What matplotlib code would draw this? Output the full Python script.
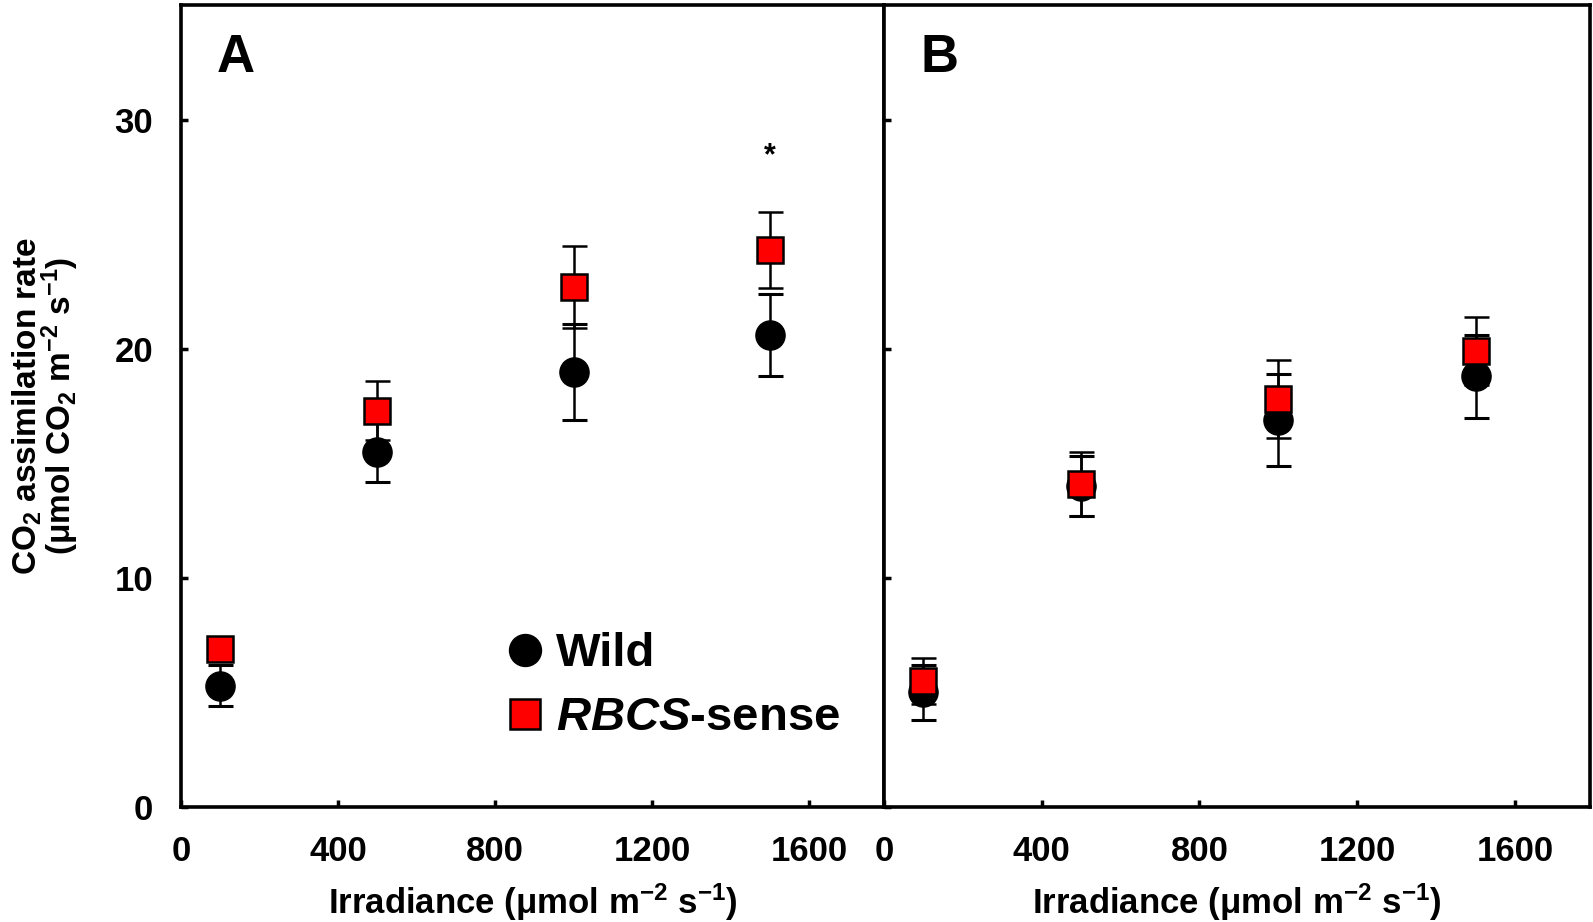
import matplotlib
matplotlib.use('Agg')
import matplotlib.pyplot as plt
from matplotlib.lines import Line2D

plt.rcParams['font.family'] = 'Liberation Sans'
plt.rcParams['font.weight'] = 'bold'
plt.rcParams['axes.labelweight'] = 'bold'
plt.rcParams['mathtext.fontset'] = 'custom'
plt.rcParams['mathtext.rm'] = 'Liberation Sans:bold'
plt.rcParams['mathtext.it'] = 'Liberation Sans:bold:italic'
plt.rcParams['mathtext.bf'] = 'Liberation Sans:bold'

irradiance = [100, 500, 1000, 1500]

# panel A
wild_a = [5.3, 15.5, 19.0, 20.6]
wild_a_err = [0.9, 1.3, 2.1, 1.8]
sense_a = [6.9, 17.3, 22.7, 24.3]
sense_a_err = [0.4, 1.3, 1.8, 1.65]

# panel B
wild_b = [5.0, 14.0, 16.9, 18.8]
wild_b_err = [1.2, 1.3, 2.0, 1.8]
sense_b = [5.5, 14.1, 17.8, 19.9]
sense_b_err = [1.0, 1.4, 1.7, 1.5]

xticks = [0, 400, 800, 1200, 1600]
yticks = [0, 10, 20, 30]

fig = plt.figure(figsize=(15.93, 9.22), dpi=100)
axA = fig.add_axes([0.1136, 0.1247, 0.4413, 0.8698])
axB = fig.add_axes([0.5549, 0.1247, 0.4432, 0.8698])


def draw_panel(ax, wild, wild_err, sense, sense_err):
    ax.errorbar(irradiance, wild, yerr=wild_err, fmt='o', color='black', ms=21,
                ecolor='black', elinewidth=1.8, capsize=9, capthick=2.2, zorder=3)
    ax.errorbar(irradiance, sense, yerr=sense_err, fmt='s', mfc='#ff0000', mec='black',
                mew=1.8, ms=19, ecolor='black', elinewidth=1.8, capsize=9, capthick=2.2, zorder=4)
    ax.set_xlim(0, 1790)
    ax.set_ylim(0, 35)
    ax.set_xticks(xticks)
    ax.set_yticks(yticks)
    for s in ax.spines.values():
        s.set_linewidth(2.6)
    ax.tick_params(direction='in', length=5, width=2.5, labelsize=25)
    ax.tick_params(axis='x', pad=20)
    ax.tick_params(axis='y', pad=20)
    ax.set_xlabel(r'Irradiance (μmol m$^{\mathrm{-2}}$ s$^{\mathrm{-1}}$)', fontsize=25, labelpad=10)


draw_panel(axA, wild_a, wild_a_err, sense_a, sense_a_err)
draw_panel(axB, wild_b, wild_b_err, sense_b, sense_b_err)
axB.tick_params(axis='y', labelleft=False)

axA.set_ylabel('CO$_\\mathrm{2}$ assimilation rate\n(μmol CO$_\\mathrm{2}$ m$^{\\mathrm{-2}}$ s$^{\\mathrm{-1}}$)',
               fontsize=24, labelpad=24, linespacing=0.85)

axA.text(0.078, 0.934, 'A', transform=axA.transAxes, fontsize=38, ha='center', va='center')
axB.text(0.078, 0.934, 'B', transform=axB.transAxes, fontsize=38, ha='center', va='center')
axA.text(1500, 28.4, '*', fontsize=22, ha='center', va='center')

handles = [
    Line2D([], [], marker='o', color='black', ls='none', ms=23),
    Line2D([], [], marker='s', mfc='#ff0000', mec='black', mew=1.8, ls='none', ms=21),
]
axA.legend(handles, ['Wild', r'$\it{RBCS}$-sense'], loc='lower left',
           bbox_to_anchor=(0.396, 0.03), frameon=False, fontsize=34,
           handletextpad=0.15, labelspacing=0.43, handlelength=1.0)

fig.savefig('out.png', dpi=100)
